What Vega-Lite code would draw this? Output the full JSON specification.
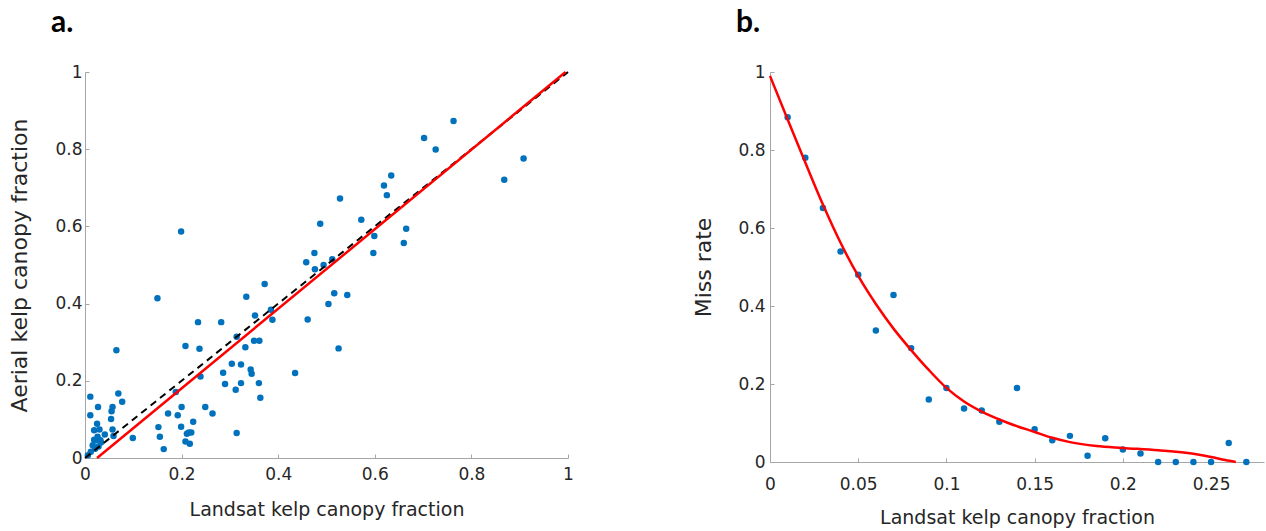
{
  "$schema": "https://vega.github.io/schema/vega-lite/v6.json",
  "background": "white",
  "padding": {"left": 8, "top": 8, "right": 2, "bottom": 2},
  "config": {
    "view": {"stroke": null},
    "font": "DejaVu Sans",
    "axis": {
      "grid": false,
      "domainColor": "#a6a6a6",
      "tickColor": "#a6a6a6",
      "tickSize": -4,
      "labelFont": "DejaVu Sans",
      "labelFontSize": 17,
      "labelColor": "#262626",
      "titleFont": "DejaVu Sans",
      "titleFontSize": 19,
      "titleFontWeight": "normal",
      "titleColor": "#262626",
      "labelFlush": false,
      "labelOverlap": false
    },
    "title": {"font": "Lato", "fontSize": 30, "fontWeight": "bold", "color": "#000000", "anchor": "start", "frame": "group"}
  },
  "spacing": 118,
  "datasets": {
    "scatterA": [
      {"x": 0.763, "y": 0.873}, {"x": 0.702, "y": 0.829}, {"x": 0.726, "y": 0.799}, {"x": 0.908, "y": 0.776},
      {"x": 0.868, "y": 0.721}, {"x": 0.634, "y": 0.732}, {"x": 0.619, "y": 0.706}, {"x": 0.625, "y": 0.681},
      {"x": 0.528, "y": 0.672}, {"x": 0.572, "y": 0.617}, {"x": 0.487, "y": 0.607}, {"x": 0.599, "y": 0.575},
      {"x": 0.665, "y": 0.594}, {"x": 0.660, "y": 0.557}, {"x": 0.597, "y": 0.531}, {"x": 0.199, "y": 0.587},
      {"x": 0.475, "y": 0.531}, {"x": 0.458, "y": 0.507}, {"x": 0.476, "y": 0.489}, {"x": 0.494, "y": 0.500},
      {"x": 0.512, "y": 0.515}, {"x": 0.372, "y": 0.451}, {"x": 0.150, "y": 0.414}, {"x": 0.334, "y": 0.418},
      {"x": 0.516, "y": 0.427}, {"x": 0.543, "y": 0.422}, {"x": 0.504, "y": 0.399}, {"x": 0.461, "y": 0.359},
      {"x": 0.385, "y": 0.384}, {"x": 0.388, "y": 0.358}, {"x": 0.352, "y": 0.369}, {"x": 0.525, "y": 0.284},
      {"x": 0.234, "y": 0.352}, {"x": 0.282, "y": 0.352}, {"x": 0.314, "y": 0.314}, {"x": 0.350, "y": 0.304},
      {"x": 0.361, "y": 0.304}, {"x": 0.208, "y": 0.290}, {"x": 0.237, "y": 0.283}, {"x": 0.332, "y": 0.287},
      {"x": 0.065, "y": 0.279}, {"x": 0.435, "y": 0.220}, {"x": 0.304, "y": 0.244}, {"x": 0.323, "y": 0.242},
      {"x": 0.343, "y": 0.229}, {"x": 0.345, "y": 0.218}, {"x": 0.286, "y": 0.221}, {"x": 0.239, "y": 0.211},
      {"x": 0.290, "y": 0.192}, {"x": 0.323, "y": 0.194}, {"x": 0.360, "y": 0.194}, {"x": 0.312, "y": 0.177},
      {"x": 0.363, "y": 0.156}, {"x": 0.188, "y": 0.171}, {"x": 0.249, "y": 0.132}, {"x": 0.264, "y": 0.115},
      {"x": 0.172, "y": 0.115}, {"x": 0.192, "y": 0.111}, {"x": 0.200, "y": 0.132}, {"x": 0.199, "y": 0.081},
      {"x": 0.224, "y": 0.094}, {"x": 0.215, "y": 0.066}, {"x": 0.220, "y": 0.066}, {"x": 0.211, "y": 0.063},
      {"x": 0.208, "y": 0.043}, {"x": 0.217, "y": 0.037}, {"x": 0.314, "y": 0.065}, {"x": 0.152, "y": 0.080},
      {"x": 0.155, "y": 0.055}, {"x": 0.163, "y": 0.023}, {"x": 0.099, "y": 0.052}, {"x": 0.011, "y": 0.159},
      {"x": 0.069, "y": 0.167}, {"x": 0.077, "y": 0.146}, {"x": 0.027, "y": 0.132}, {"x": 0.057, "y": 0.132},
      {"x": 0.055, "y": 0.121}, {"x": 0.011, "y": 0.111}, {"x": 0.054, "y": 0.101}, {"x": 0.025, "y": 0.089},
      {"x": 0.057, "y": 0.074}, {"x": 0.019, "y": 0.072}, {"x": 0.030, "y": 0.074}, {"x": 0.041, "y": 0.061},
      {"x": 0.059, "y": 0.057}, {"x": 0.026, "y": 0.055}, {"x": 0.023, "y": 0.046}, {"x": 0.032, "y": 0.046},
      {"x": 0.016, "y": 0.033}, {"x": 0.033, "y": 0.040}, {"x": 0.021, "y": 0.024}, {"x": 0.012, "y": 0.016},
      {"x": 0.006, "y": 0.007}, {"x": 0.028, "y": 0.030}, {"x": 0.019, "y": 0.047}
    ],
    "diag": [{"x": 0, "y": 0}, {"x": 1, "y": 1}],
    "fitA": [{"x": 0.025, "y": 0}, {"x": 0.995, "y": 1}],
    "scatterB": [
      {"x": 0.01, "y": 0.884}, {"x": 0.02, "y": 0.780}, {"x": 0.03, "y": 0.651}, {"x": 0.04, "y": 0.540},
      {"x": 0.05, "y": 0.480}, {"x": 0.06, "y": 0.337}, {"x": 0.07, "y": 0.428}, {"x": 0.08, "y": 0.292},
      {"x": 0.09, "y": 0.160}, {"x": 0.10, "y": 0.190}, {"x": 0.11, "y": 0.137}, {"x": 0.12, "y": 0.132},
      {"x": 0.13, "y": 0.103}, {"x": 0.14, "y": 0.190}, {"x": 0.15, "y": 0.084}, {"x": 0.16, "y": 0.056},
      {"x": 0.17, "y": 0.067}, {"x": 0.18, "y": 0.016}, {"x": 0.19, "y": 0.061}, {"x": 0.20, "y": 0.032},
      {"x": 0.21, "y": 0.022}, {"x": 0.22, "y": 0.0}, {"x": 0.23, "y": 0.0}, {"x": 0.24, "y": 0.0},
      {"x": 0.25, "y": 0.0}, {"x": 0.26, "y": 0.049}, {"x": 0.27, "y": 0.0}
    ],
    "fitB": [
      {"x": 0.0, "y": 0.99}, {"x": 0.01, "y": 0.878}, {"x": 0.02, "y": 0.768}, {"x": 0.03, "y": 0.660},
      {"x": 0.04, "y": 0.562}, {"x": 0.05, "y": 0.477}, {"x": 0.06, "y": 0.405}, {"x": 0.07, "y": 0.342},
      {"x": 0.08, "y": 0.287}, {"x": 0.09, "y": 0.236}, {"x": 0.10, "y": 0.190}, {"x": 0.11, "y": 0.155},
      {"x": 0.12, "y": 0.129}, {"x": 0.135, "y": 0.100}, {"x": 0.15, "y": 0.077}, {"x": 0.16, "y": 0.062},
      {"x": 0.17, "y": 0.051}, {"x": 0.185, "y": 0.041}, {"x": 0.20, "y": 0.036}, {"x": 0.22, "y": 0.030},
      {"x": 0.24, "y": 0.021}, {"x": 0.25, "y": 0.013}, {"x": 0.258, "y": 0.005}, {"x": 0.264, "y": 0.0}
    ]
  },
  "hconcat": [
    {
      "width": 483,
      "height": 386,
      "title": {"text": "a.", "dx": -34, "offset": 25},
      "layer": [
        {
          "data": {"name": "scatterA"},
          "mark": {"type": "circle", "size": 42, "color": "#0072BD", "opacity": 1},
          "encoding": {
            "x": {"field": "x", "type": "quantitative", "scale": {"domain": [0, 1], "nice": false},
                  "axis": {"title": "Landsat kelp canopy fraction", "values": [0, 0.2, 0.4, 0.6, 0.8, 1], "format": "~g", "labelPadding": 12, "titlePadding": 18}},
            "y": {"field": "y", "type": "quantitative", "scale": {"domain": [0, 1], "nice": false},
                  "axis": {"title": "Aerial kelp canopy fraction", "titleFontSize": 22, "values": [0, 0.2, 0.4, 0.6, 0.8, 1], "format": "~g", "labelPadding": 7, "titlePadding": 23}}
          }
        },
        {
          "data": {"name": "diag"},
          "mark": {"type": "line", "color": "#000000", "strokeWidth": 2, "strokeDash": [7, 5]},
          "encoding": {
            "x": {"field": "x", "type": "quantitative"},
            "y": {"field": "y", "type": "quantitative"}
          }
        },
        {
          "data": {"name": "fitA"},
          "mark": {"type": "line", "color": "#FF0000", "strokeWidth": 2.5},
          "encoding": {
            "x": {"field": "x", "type": "quantitative"},
            "y": {"field": "y", "type": "quantitative"}
          }
        }
      ]
    },
    {
      "width": 494,
      "height": 390,
      "title": {"text": "b.", "dx": -34, "offset": 25},
      "layer": [
        {
          "data": {"name": "scatterB"},
          "mark": {"type": "circle", "size": 42, "color": "#0072BD", "opacity": 1},
          "encoding": {
            "x": {"field": "x", "type": "quantitative", "scale": {"domain": [0, 0.28], "nice": false},
                  "axis": {"title": "Landsat kelp canopy fraction", "values": [0, 0.05, 0.1, 0.15, 0.2, 0.25], "format": "~g", "labelPadding": 18, "titlePadding": 16}},
            "y": {"field": "y", "type": "quantitative", "scale": {"domain": [0, 1], "nice": false},
                  "axis": {"title": "Miss rate", "titleFontSize": 22, "values": [0, 0.2, 0.4, 0.6, 0.8, 1], "format": "~g", "labelPadding": 9, "titlePadding": 22}}
          }
        },
        {
          "data": {"name": "fitB"},
          "mark": {"type": "line", "color": "#FF0000", "strokeWidth": 2.5, "interpolate": "monotone"},
          "encoding": {
            "x": {"field": "x", "type": "quantitative"},
            "y": {"field": "y", "type": "quantitative"}
          }
        }
      ]
    }
  ]
}
